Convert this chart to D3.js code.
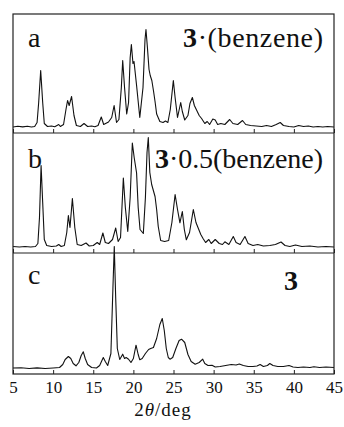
<!DOCTYPE html>
<html>
<head>
<meta charset="utf-8">
<script src="https://cdn.jsdelivr.net/npm/d3@7"></script>
<style>
  body { margin: 0; background: #fff; }
  svg text { font-family: "Liberation Serif", "DejaVu Serif", serif; fill: #111; }
</style>
</head>
<body>
<div id="chart"></div>
<script>
// powder patterns, [2theta (deg), intensity (a.u.)]
var patternA = [
  [5.0,0.5],[5.6,1.2],[6.2,0.6],[6.8,1.3],[7.3,0.5],[7.7,1],[8.0,5],[8.2,25],[8.45,57],[8.7,25],[8.9,4],
  [9.3,1],[9.8,1.5],[10.2,0.8],[10.7,3],[10.9,1],[11.3,3],[11.6,18],[11.8,27],[12.0,22],[12.3,31],[12.6,12],
  [12.9,2],[13.4,1],[13.85,4],[14.3,1],[14.8,1.5],[15.2,0.8],[15.6,2],[16.0,10.5],[16.3,3],[16.9,5.5],
  [17.3,10],[17.6,22],[17.9,5],[18.2,8],[18.5,40],[18.67,67],[18.9,40],[19.17,13.5],[19.4,25],[19.6,70],
  [19.75,83],[19.95,64],[20.08,66],[20.4,42],[20.8,10],[21.2,40],[21.45,88],[21.57,98],[21.75,80],
  [21.95,58],[22.1,52],[22.3,47],[22.5,37],[22.7,26],[22.9,13.5],[23.3,6],[23.7,5],[24.0,6.5],[24.3,5],
  [24.6,18],[24.98,47],[25.2,30],[25.5,10],[25.9,25],[26.1,16],[26.4,7.5],[26.8,12],[27.05,24],[27.35,30],
  [27.6,22],[27.9,17],[28.2,12],[28.5,9],[28.9,4],[29.2,6],[29.5,3],[29.9,8.5],[30.2,7.5],[30.5,3],
  [30.9,4],[31.4,3],[32.0,8],[32.4,4],[33.0,3],[33.6,7],[34.0,3],[34.6,2],[35.3,1.5],[36.0,1],[36.6,2],
  [37.2,1],[37.8,3],[38.3,5],[38.7,2],[39.4,1],[40.0,0.5],[40.6,2],[41.2,1],[41.8,1.5],[42.4,0.5],
  [43.0,1],[43.6,0.5],[44.2,1],[45.0,0.5]
];
var patternB = [
  [5.0,1],[5.8,0.5],[6.5,1],[7.2,0.5],[7.8,1],[8.1,4],[8.3,30],[8.5,82],[8.7,45],[8.9,8],[9.2,2],
  [9.8,1],[10.4,1.5],[10.7,3],[11.0,1],[11.4,2],[11.7,15],[11.9,32],[12.1,20],[12.4,49],[12.7,20],
  [13.0,3],[13.5,2],[14.1,4.5],[14.5,1.5],[15.0,2],[15.5,5],[15.8,3],[16.2,14.5],[16.5,5],[16.9,4],
  [17.4,8],[17.8,19.5],[18.1,6],[18.4,10],[18.75,69.5],[19.0,40],[19.3,16],[19.6,50],[19.87,104.5],
  [20.1,90],[20.4,74.5],[20.6,40],[20.83,18],[21.24,14],[21.5,50],[21.7,95],[21.86,110],[22.05,75],
  [22.28,63],[22.7,51],[22.9,38],[23.1,21],[23.4,7],[23.9,6],[24.4,7],[24.8,25],[25.2,53],[25.5,38],
  [25.8,24.7],[26.1,36],[26.35,18],[26.6,7.7],[27.0,15],[27.47,38],[27.8,25],[28.1,19],[28.4,13],
  [28.7,8.7],[29.0,5],[29.4,8],[29.7,4],[30.2,8],[30.7,4],[31.1,3],[31.4,5.7],[31.9,3],[32.45,11],
  [32.8,5],[33.3,3],[33.9,11],[34.3,4],[34.9,2],[35.5,3],[36.2,1.5],[37.0,2],[37.7,3],[38.4,5.5],
  [38.9,2],[39.5,1],[40.2,2.5],[41.0,1],[42.0,1.5],[43.0,0.5],[44.0,1],[45.0,0.5]
];
var patternC = [
  [5.0,0.5],[6.0,0.8],[7.0,0],[8.0,0.6],[9.0,0],[10.0,0.5],[10.8,1],[11.2,4],[11.5,9],[11.9,12],
  [12.2,10],[12.5,5],[12.85,2.7],[13.2,6],[13.5,13],[13.76,16.7],[14.0,10],[14.3,4],[14.8,1],[15.4,0.5],
  [15.8,3],[16.25,11],[16.5,7],[16.8,3],[17.2,15],[17.45,80],[17.62,122],[17.8,70],[18.0,20],[18.3,9],
  [18.67,14.3],[18.9,10],[19.1,11],[19.4,9.3],[19.7,6],[20.0,10],[20.33,23.3],[20.6,14],[20.8,8.7],
  [21.1,10],[21.5,15],[21.9,19],[22.16,20],[22.5,21],[22.9,30],[23.3,44],[23.6,50],[23.85,38],[24.1,20],
  [24.35,11],[24.56,9.3],[24.9,11],[25.3,20],[25.7,28],[26.0,29.3],[26.4,26],[26.8,14],[27.2,7],
  [27.7,4.3],[28.2,6],[28.64,9.3],[28.9,5],[29.3,3],[29.8,3.3],[30.2,1.5],[30.8,2],[31.5,3],[32.2,4],
  [32.8,3.5],[33.2,4.5],[33.7,3],[34.3,2],[34.9,2],[35.4,2.5],[35.8,4],[36.2,2],[36.7,3],[37.0,5],
  [37.4,3],[38.0,2],[38.7,2],[39.4,3],[39.9,1.5],[40.5,1],[41.2,1.5],[42.0,1],[42.5,1.8],[43.2,1],
  [44.0,1.5],[45.0,1]
];
var xTicks = [5, 10, 15, 20, 25, 30, 35, 40, 45];
var panelLetters = ["a", "b", "c"];
var compoundLabels = [["3", "\u00B7(benzene)"], ["3", "\u00B70.5(benzene)"], ["3", ""]];

var width = 344, height = 427;
var left = 13, right = 334;
var panels = [
  {top: 14, bottom: 133, data: patternA, labelY: 47, compX: 323, compY: 47, compLen: 140},
  {top: 133, bottom: 253, data: patternB, labelY: 168, compX: 323, compY: 168, compLen: 168},
  {top: 253, bottom: 374, data: patternC, labelY: 284, compX: 298, compY: 290, compLen: 0}
];

var svg = d3.select('#chart').append('svg')
  .attr('width', width)
  .attr('height', height);

var x = d3.scaleLinear().domain([5, 45]).range([left, right]);

panels.forEach(function(p, i) {
  var y = d3.scaleLinear().domain([0, 100]).range([p.bottom - 5.5, p.bottom - 105.5]);

  var line = d3.line()
    .x(function(d) { return x(d[0]); })
    .y(function(d) { return y(d[1]); });

  svg.append('path')
    .datum(p.data)
    .attr('d', line)
    .attr('fill', 'none')
    .attr('stroke', '#111')
    .attr('stroke-width', 1.1)
    .attr('stroke-linejoin', 'round');

  // inward ticks on the bottom edge, labels only under the last panel
  var axis = d3.axisBottom(x)
    .tickValues(xTicks)
    .tickSizeInner(-4)
    .tickSizeOuter(0)
    .tickPadding(6)
    .tickFormat(i == 2 ? d3.format('d') : '');
  var ax = svg.append('g')
    .attr('transform', 'translate(0,' + p.bottom + ')')
    .call(axis);
  ax.select('.domain').remove();
  ax.selectAll('line').attr('stroke', '#222');
  ax.selectAll('text')
    .style('font-family', '"Liberation Serif", serif')
    .style('font-size', '17px')
    .attr('dy', '0.78em')
    .attr('fill', '#111');

  svg.append('text')
    .attr('x', 28)
    .attr('y', p.labelY)
    .style('font-size', '28px')
    .text(panelLetters[i]);

  var t = svg.append('text')
    .attr('x', p.compX)
    .attr('y', p.compY)
    .attr('text-anchor', 'end')
    .style('font-size', '28px');
  if (p.compLen) t.attr('textLength', p.compLen).attr('lengthAdjust', 'spacing');
  t.append('tspan').style('font-weight', 'bold').text(compoundLabels[i][0]);
  if (compoundLabels[i][1]) t.append('tspan').text(compoundLabels[i][1]);

  if (i > 0) {
    svg.append('line')
      .attr('x1', left).attr('x2', right)
      .attr('y1', p.top).attr('y2', p.top)
      .attr('stroke', '#222').attr('stroke-width', 1.2);
  }
});

// frame
svg.append('rect')
  .attr('x', left).attr('y', panels[0].top)
  .attr('width', right - left)
  .attr('height', panels[2].bottom - panels[0].top)
  .attr('fill', 'none')
  .attr('stroke', '#222')
  .attr('stroke-width', 1.2);

var title = svg.append('text')
  .attr('x', 163)
  .attr('y', 416)
  .attr('text-anchor', 'middle')
  .style('font-size', '19px')
  .style('letter-spacing', '1px');
title.append('tspan').text('2');
title.append('tspan').style('font-style', 'italic').text('\u03B8');
title.append('tspan').text('/deg');
</script>
</body>
</html>
